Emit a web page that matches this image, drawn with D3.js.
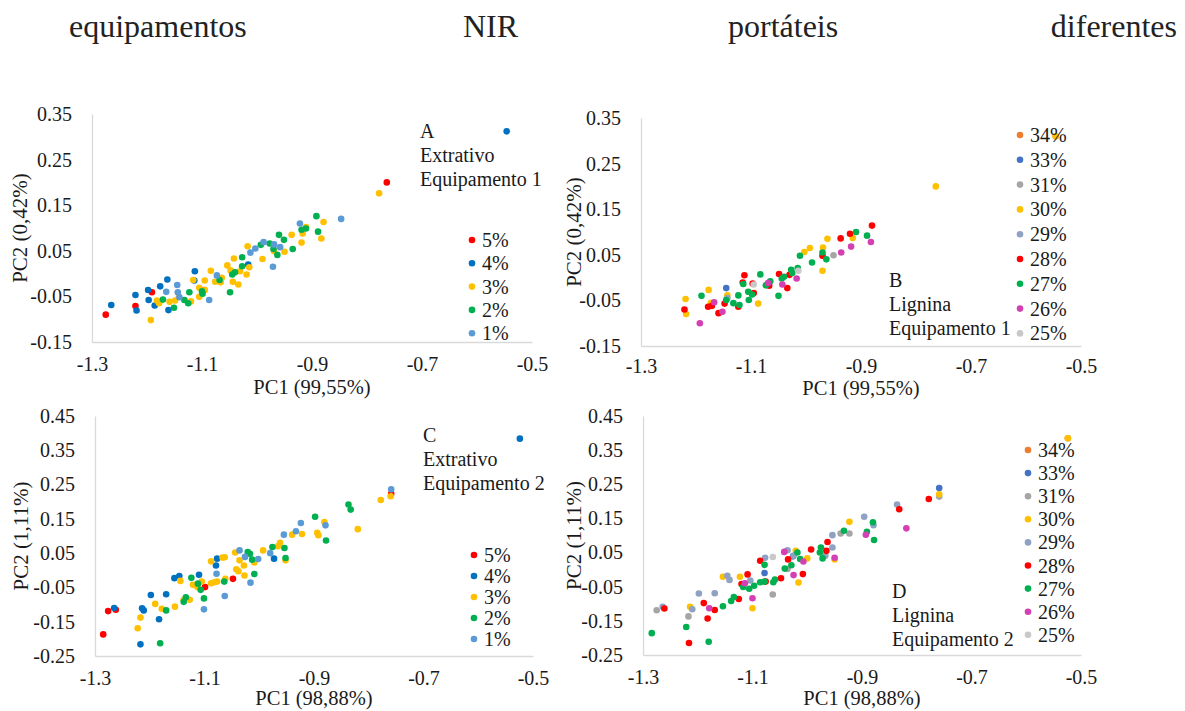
<!DOCTYPE html>
<html>
<head>
<meta charset="utf-8">
<script src="https://cdn.jsdelivr.net/npm/d3@7"></script>
<style>
  body { margin: 0; background: #fff; }
  text { font-family: "Liberation Serif", "Times New Roman", serif; fill: #1a1a1a; }
</style>
</head>
<body>
<script>
var width = 1185,
    height = 711;

// header words
var headerWords = ["equipamentos", "NIR", "portáteis", "diferentes"];

// axis ticks
var xTicks = [-1.3, -1.1, -0.9, -0.7, -0.5];
var yTicksTop = [0.35, 0.25, 0.15, 0.05, -0.05, -0.15];
var yTicksBottom = [0.45, 0.35, 0.25, 0.15, 0.05, -0.05, -0.15, -0.25];

// series names
var extNames = ["5%", "4%", "3%", "2%", "1%"];
var ligNames = ["34%", "33%", "31%", "30%", "29%", "28%", "27%", "26%", "25%"];

// A - Extrativo, Equipamento 1
var a5 = [[-1.275,-0.090],[-1.221,-0.071],[-1.191,-0.041],[-1.096,-0.036],[-0.764,0.200]];
var a4 = [[-1.265,-0.069],[-1.221,-0.047],[-1.219,-0.081],[-1.198,-0.036],[-1.197,-0.058],[-1.186,-0.070],[-1.176,-0.028],[-1.163,-0.013],[-1.161,-0.080],[-1.113,0.005],[-1.114,-0.015],[-1.016,0.020],[-0.546,0.312]];
var a3 = [[-1.193,-0.102],[-1.182,-0.059],[-1.178,-0.065],[-1.159,-0.062],[-1.149,-0.059],[-1.142,-0.051],[-1.120,-0.061],[-1.116,-0.014],[-1.105,-0.051],[-1.105,-0.031],[-1.095,-0.015],[-1.095,-0.036],[-1.084,0.006],[-1.076,-0.018],[-1.066,-0.019],[-1.064,-0.009],[-1.054,0.018],[-1.048,0.007],[-1.044,-0.018],[-1.042,0.033],[-1.034,-0.024],[-1.031,0.005],[-1.019,-0.002],[-1.017,0.060],[-1.014,0.014],[-0.990,0.032],[-0.969,0.049],[-0.950,0.048],[-0.937,0.085],[-0.919,0.068],[-0.917,0.088],[-0.911,0.102],[-0.883,0.077],[-0.879,0.113],[-0.778,0.176]];
var a2 = [[-1.171,-0.057],[-1.151,-0.075],[-1.132,-0.058],[-1.125,-0.065],[-1.123,-0.041],[-1.100,-0.039],[-1.099,-0.044],[-1.068,-0.014],[-1.049,-0.041],[-1.045,-0.002],[-1.040,0.003],[-1.027,0.036],[-1.027,0.016],[-0.993,0.063],[-0.977,0.066],[-0.970,0.054],[-0.963,0.041],[-0.960,0.085],[-0.951,0.074],[-0.935,0.054],[-0.919,0.096],[-0.911,0.099],[-0.892,0.126],[-0.889,0.092]];
var a1 = [[-1.165,-0.040],[-1.145,-0.025],[-1.144,-0.041],[-1.141,-0.052],[-1.087,-0.058],[-1.073,-0.004],[-1.012,0.046],[-1.003,0.055],[-0.988,0.069],[-0.971,0.015],[-0.969,0.064],[-0.958,0.058],[-0.922,0.110],[-0.847,0.120]];

// B - Lignina, Equipamento 1
var b34 = [[-0.546,0.310]];
var b33 = [[-1.145,-0.023]];
var b31 = [[-0.950,0.049]];
var b30 = [[-1.219,-0.047],[-1.218,-0.080],[-1.177,-0.027],[-1.173,-0.056],[-1.143,-0.039],[-1.087,-0.057],[-1.003,0.056],[-0.993,0.065],[-0.970,0.015],[-0.969,0.066],[-0.961,0.085],[-0.915,0.087],[-0.764,0.200],[-0.546,0.310]];
var b29 = [[-1.143,-0.045]];
var b28 = [[-1.221,-0.070],[-1.178,-0.064],[-1.171,-0.062],[-1.159,-0.078],[-1.148,-0.057],[-1.123,-0.064],[-1.115,-0.011],[-1.112,0.005],[-1.095,-0.034],[-1.097,-0.013],[-1.067,-0.018],[-1.049,0.008],[-1.034,-0.023],[-1.030,0.006],[-0.970,0.048],[-0.937,0.086],[-0.920,0.096],[-0.880,0.114]];
var b27 = [[-1.190,-0.040],[-1.145,-0.049],[-1.132,-0.056],[-1.121,-0.060],[-1.123,-0.039],[-1.114,-0.014],[-1.105,-0.031],[-1.104,-0.049],[-1.098,-0.037],[-1.083,0.007],[-1.073,-0.017],[-1.065,-0.008],[-1.050,-0.040],[-1.044,-0.002],[-1.040,0.002],[-1.027,0.017],[-1.025,0.010],[-1.015,0.021],[-1.011,0.048],[-0.989,0.033],[-0.970,0.055],[-0.963,0.040],[-0.909,0.100],[-0.889,0.092]];
var b26 = [[-1.193,-0.100],[-1.167,-0.054],[-1.152,-0.075],[-1.069,-0.012],[-1.043,-0.015],[-1.017,-0.002],[-0.936,0.055],[-0.918,0.068],[-0.882,0.078]];
var b25 = [[-1.095,-0.015],[-1.014,0.015]];

// C - Extrativo, Equipamento 2
var c5 = [[-1.285,-0.187],[-1.276,-0.119],[-1.262,-0.115],[-1.099,-0.049],[-1.048,-0.025],[-0.759,0.223]];
var c4 = [[-1.265,-0.110],[-1.217,-0.216],[-1.214,-0.111],[-1.211,-0.117],[-1.198,-0.072],[-1.183,-0.143],[-1.170,-0.070],[-1.155,-0.023],[-1.146,-0.017],[-1.110,-0.013],[-1.079,0.014],[-1.077,0.034],[-0.973,0.034],[-0.524,0.384]];
var c3 = [[-1.222,-0.169],[-1.217,-0.138],[-1.190,-0.098],[-1.178,-0.112],[-1.154,-0.106],[-1.144,-0.031],[-1.138,-0.086],[-1.127,-0.086],[-1.121,-0.042],[-1.113,-0.049],[-1.105,-0.033],[-1.088,0.026],[-1.088,-0.038],[-1.082,-0.035],[-1.077,-0.033],[-1.067,0.037],[-1.063,0.038],[-1.062,-0.025],[-1.044,0.052],[-1.042,0.003],[-1.038,-0.003],[-1.036,0.029],[-1.028,0.014],[-1.027,-0.015],[-1.009,0.023],[-0.993,0.058],[-0.966,0.070],[-0.962,0.080],[-0.952,0.029],[-0.940,0.104],[-0.922,0.106],[-0.894,0.109],[-0.892,0.102],[-0.881,0.141],[-0.820,0.120],[-0.778,0.205],[-0.760,0.216]];
var c2 = [[-1.181,-0.213],[-1.170,-0.117],[-1.138,-0.092],[-1.134,-0.079],[-1.124,-0.022],[-1.112,-0.039],[-1.107,-0.057],[-1.101,-0.082],[-1.064,-0.033],[-1.021,0.053],[-1.017,0.048],[-1.013,0.031],[-1.009,-0.011],[-0.976,0.068],[-0.954,0.065],[-0.952,0.036],[-0.898,0.156],[-0.878,0.087],[-0.837,0.192],[-0.833,0.177]];
var c1 = [[-1.101,-0.114],[-1.078,-0.010],[-1.063,-0.075],[-1.036,0.058],[-1.026,0.039],[-1.016,-0.036],[-1.002,0.033],[-0.980,0.050],[-0.955,0.104],[-0.933,0.114],[-0.924,0.138],[-0.879,0.131],[-0.759,0.236]];

// D - Lignina, Equipamento 2
var d34 = [[-0.524,0.385]];
var d33 = [[-1.078,-0.010],[-1.026,0.039],[-0.759,0.239]];
var d31 = [[-1.275,-0.119],[-1.217,-0.137],[-1.063,-0.073],[-1.036,0.002],[-0.939,0.106],[-0.923,0.106],[-0.759,0.214]];
var d30 = [[-1.214,-0.109],[-1.154,-0.021],[-1.123,-0.021],[-1.100,-0.113],[-1.021,0.055],[-1.016,-0.038],[-1.000,0.033],[-0.950,0.030],[-0.923,0.140],[-0.759,0.221],[-0.524,0.385]];
var d29 = [[-1.264,-0.109],[-1.210,-0.116],[-1.198,-0.070],[-1.169,-0.069],[-1.146,-0.018],[-1.142,-0.030],[-1.104,-0.032],[-1.077,0.035],[-1.036,0.057],[-1.025,0.041],[-0.967,0.041],[-0.954,0.065],[-0.954,0.101],[-0.896,0.155],[-0.879,0.130],[-0.836,0.191]];
var d28 = [[-1.261,-0.114],[-1.216,-0.215],[-1.189,-0.098],[-1.182,-0.143],[-1.169,-0.118],[-1.125,-0.086],[-1.120,-0.042],[-1.109,-0.014],[-1.086,0.026],[-1.076,-0.035],[-1.048,-0.025],[-1.035,0.030],[-1.008,-0.013],[-0.993,0.059],[-0.965,0.055],[-0.963,0.081],[-0.832,0.177],[-0.778,0.207]];
var d27 = [[-1.284,-0.186],[-1.221,-0.168],[-1.180,-0.211],[-1.154,-0.107],[-1.139,-0.092],[-1.134,-0.080],[-1.117,-0.051],[-1.106,-0.056],[-1.097,-0.047],[-1.086,-0.037],[-1.078,-0.035],[-1.078,0.014],[-1.062,-0.037],[-1.059,-0.029],[-1.041,0.003],[-1.029,0.013],[-1.018,0.050],[-1.013,0.031],[-0.977,0.050],[-0.975,0.065],[-0.972,0.033],[-0.933,0.114],[-0.891,0.111],[-0.880,0.139],[-0.878,0.087]];
var d26 = [[-1.179,-0.113],[-1.114,-0.040],[-1.100,-0.084],[-1.042,0.052],[-1.025,-0.016],[-1.007,0.024],[-0.950,0.035],[-0.893,0.102],[-0.819,0.121]];
var d25 = [[-1.063,0.037]];

// colours
var extColors = ["#FF0000", "#0070C0", "#FFC000", "#00B050", "#5B9BD5"];
var ligColors = ["#ED7D31", "#4472C4", "#A5A5A5", "#FFC000", "#8FA2C4", "#FF0000", "#00B050", "#D43FB3", "#C8C8C8"];

var svg = d3.select("body")
    .append("svg")
    .attr("width", width)
    .attr("height", height);

// Header line (justified words)
var headerX = [69, 463, 728, 1177];
svg.append("g").selectAll("text")
    .data(headerWords)
    .enter()
    .append("text")
    .attr("x", function(d, i){ return headerX[i]; })
    .attr("y", 37)
    .attr("text-anchor", function(d, i){ return i == 3 ? "end" : "start"; })
    .style("font-size", "32px")
    .style("fill", "#222")
    .text(function(d){ return d; });

function drawPanel(p) {
    var g = svg.append("g");

    var x = d3.scaleLinear().domain([-1.3, -0.5]).range([p.x0, p.x1]);
    var y = d3.scaleLinear().domain([p.yTicks[p.yTicks.length - 1], p.yTicks[0]]).range([p.yBot, p.yTop]);

    // axes
    var xAxis = g.append("g")
        .attr("transform", "translate(0," + p.yBot + ")")
        .call(d3.axisBottom(x).tickValues(xTicks).tickSize(0).tickSizeOuter(0).tickPadding(p.xPad)
            .tickFormat(function(d){ return d.toFixed(1); }));
    var yAxis = g.append("g")
        .attr("transform", "translate(" + p.x0 + ",0)")
        .call(d3.axisLeft(y).tickValues(p.yTicks).tickSize(0).tickSizeOuter(0).tickPadding(20)
            .tickFormat(function(d){ return d.toFixed(2); }));
    [xAxis, yAxis].forEach(function(a){
        a.select(".domain").attr("stroke", "#d9d9d9").attr("stroke-width", 1.3);
        a.selectAll(".tick text")
            .style("font-family", "'Liberation Serif', serif")
            .style("font-size", "20px")
            .attr("fill", "#1a1a1a");
    });

    // points
    p.series.forEach(function(s, i){
        g.append("g")
            .selectAll("circle")
            .data(s)
            .enter()
            .append("circle")
            .attr("cx", function(d){ return x(d[0]); })
            .attr("cy", function(d){ return y(d[1]); })
            .attr("r", 3.3)
            .attr("fill", p.colors[i]);
    });

    // legend
    var leg = g.append("g");
    p.names.forEach(function(n, i){
        var ly = p.legY + i * p.legStep;
        leg.append("circle")
            .attr("cx", p.legX)
            .attr("cy", ly)
            .attr("r", 3.3)
            .attr("fill", p.colors[i]);
        leg.append("text")
            .attr("x", p.legX + 10)
            .attr("y", ly)
            .attr("dy", "0.35em")
            .style("font-size", "20px")
            .text(n);
    });

    // panel annotation
    p.note.forEach(function(t, i){
        g.append("text")
            .attr("x", p.noteX)
            .attr("y", p.noteY + i * 24)
            .style("font-size", "20px")
            .text(t);
    });

    // axis titles
    g.append("text")
        .attr("x", (p.x0 + p.x1) / 2)
        .attr("y", p.xLabY)
        .attr("text-anchor", "middle")
        .style("font-size", "20.5px")
        .text(p.xLabel);
    g.append("text")
        .attr("transform", "translate(" + p.yLabX + "," + ((p.yTop + p.yBot) / 2) + ") rotate(-90)")
        .attr("text-anchor", "middle")
        .style("font-size", "21px")
        .text(p.yLabel);
}

drawPanel({
    x0: 92, x1: 532, yTop: 114, yBot: 342, yTicks: yTicksTop, xPad: 15,
    series: [a5, a4, a3, a2, a1], names: extNames, colors: extColors,
    legX: 472, legY: 240, legStep: 23.3,
    note: ["A", "Extrativo", "Equipamento 1"], noteX: 420, noteY: 138,
    xLabel: "PC1 (99,55%)", xLabY: 394, yLabel: "PC2 (0,42%)", yLabX: 27
});
drawPanel({
    x0: 641, x1: 1081, yTop: 118, yBot: 346, yTicks: yTicksTop, xPad: 13,
    series: [b34, b33, b31, b30, b29, b28, b27, b26, b25], names: ligNames, colors: ligColors,
    legX: 1020, legY: 135, legStep: 24.8,
    note: ["B", "Lignina", "Equipamento 1"], noteX: 889, noteY: 287,
    xLabel: "PC1 (99,55%)", xLabY: 395, yLabel: "PC2 (0,42%)", yLabX: 581
});
drawPanel({
    x0: 95, x1: 533, yTop: 416, yBot: 656, yTicks: yTicksBottom, xPad: 15,
    series: [c5, c4, c3, c2, c1], names: extNames, colors: extColors,
    legX: 474, legY: 555, legStep: 21,
    note: ["C", "Extrativo", "Equipamento 2"], noteX: 423, noteY: 442,
    xLabel: "PC1 (98,88%)", xLabY: 705, yLabel: "PC2 (1,11%)", yLabX: 28
});
drawPanel({
    x0: 643, x1: 1081, yTop: 416, yBot: 655, yTicks: yTicksBottom, xPad: 15,
    series: [d34, d33, d31, d30, d29, d28, d27, d26, d25], names: ligNames, colors: ligColors,
    legX: 1028, legY: 450, legStep: 23.1,
    note: ["D", "Lignina", "Equipamento 2"], noteX: 892, noteY: 598,
    xLabel: "PC1 (98,88%)", xLabY: 705, yLabel: "PC2 (1,11%)", yLabX: 581
});
</script>
</body>
</html>
